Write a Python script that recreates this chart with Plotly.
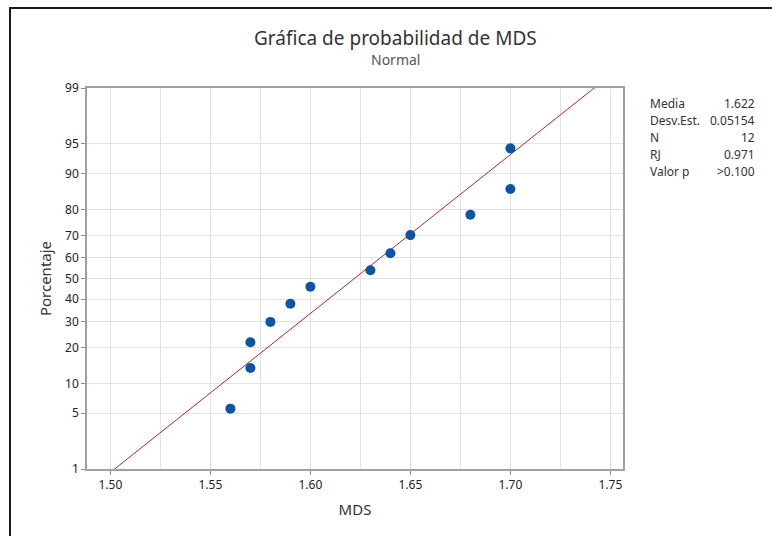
import plotly.graph_objects as go
from statistics import NormalDist

# Data
mds = [1.56, 1.57, 1.57, 1.58, 1.59, 1.60, 1.63, 1.64, 1.65, 1.68, 1.70, 1.70]
percent = [5.6, 13.7, 21.8, 29.8, 37.9, 46.0, 54.0, 62.1, 70.2, 78.2, 86.3, 94.4]
y_ticks = [1, 5, 10, 20, 30, 40, 50, 60, 70, 80, 90, 95, 99]
x_ticks = [1.50, 1.55, 1.60, 1.65, 1.70, 1.75]
stat_labels = ["Media", "Desv.Est.", "N", "RJ", "Valor p"]
stat_values = ["1.622", "0.05154", "12", "0.971", ">0.100"]
media = 1.622
desv = 0.05154

nd = NormalDist()
z = lambda p: nd.inv_cdf(p / 100.0)

y_pts = [z(p) for p in percent]
line_p = [0.5, 99.5]
line_x = [media + desv * z(p) for p in line_p]
line_y = [z(p) for p in line_p]

W, H = 772, 536
L, R, T, B = 87, 149, 88, 67
pw, ph = W - L - R, H - T - B

fig = go.Figure()
fig.add_trace(go.Scatter(x=line_x, y=line_y, mode="lines",
                         line=dict(color="#b3262e", width=1), hoverinfo="skip"))
fig.add_trace(go.Scatter(x=mds, y=y_pts, mode="markers",
                         marker=dict(color="#0b55a6", size=10)))

font = "Noto Sans, Open Sans, sans-serif"
fig.update_layout(
    width=W, height=H, margin=dict(l=L, r=R, t=T, b=B),
    paper_bgcolor="white", plot_bgcolor="white", showlegend=False,
    font=dict(family=font, color="#333333", size=12),
    xaxis=dict(range=[1.4883, 1.7563], tickvals=x_ticks,
               ticktext=[f"{v:.2f}" for v in x_ticks],
               showgrid=True, gridcolor="#e2e2e2", gridwidth=1,
               minor=dict(dtick=0.025, tick0=1.5, showgrid=True, gridcolor="#e2e2e2", ticklen=0),
               ticks="outside", ticklen=4, tickcolor="#8c8c8c",
               showline=True, linecolor="#a0a0a0", linewidth=1.5, mirror=True,
               zeroline=False, tickfont=dict(size=12, color="#222222"),
               title=dict(text="MDS", font=dict(size=15, color="#333333"), standoff=12)),
    yaxis=dict(range=[z(1), z(99)], tickvals=[z(v) for v in y_ticks],
               ticktext=[str(v) for v in y_ticks],
               showgrid=True, gridcolor="#e2e2e2", gridwidth=1,
               ticks="outside", ticklen=4, tickcolor="#8c8c8c",
               showline=True, linecolor="#a0a0a0", linewidth=1.5, mirror=True,
               zeroline=False, tickfont=dict(size=12, color="#222222"),
               title=dict(text="Porcentaje", font=dict(size=15, color="#333333"), standoff=10)),
)

def px_x(px):
    return (px - L) / pw

def px_y(py):
    return (H - B - py) / ph

# Title and subtitle
fig.add_annotation(text="Gráfica de probabilidad de MDS", x=px_x(395), y=px_y(38),
                   xref="paper", yref="paper", showarrow=False,
                   xanchor="center", yanchor="middle",
                   font=dict(size=19, color="#333333", family=font))
fig.add_annotation(text="Normal", x=px_x(395), y=px_y(59),
                   xref="paper", yref="paper", showarrow=False,
                   xanchor="center", yanchor="middle",
                   font=dict(size=14, color="#555555", family=font))

# Stats table
for i, (lab, val) in enumerate(zip(stat_labels, stat_values)):
    yy = px_y(103 + 17 * i)
    fig.add_annotation(text=lab, x=px_x(648), y=yy, xref="paper", yref="paper",
                       xanchor="left", yanchor="middle", showarrow=False,
                       font=dict(size=12, color="#333333", family=font))
    fig.add_annotation(text=val, x=px_x(757), y=yy, xref="paper", yref="paper",
                       xanchor="right", yanchor="middle", showarrow=False,
                       font=dict(size=12, color="#333333", family=font))

# Outer frame
fig.add_shape(type="rect", xref="paper", yref="paper",
              x0=px_x(10), x1=px_x(790), y0=px_y(560), y1=px_y(8),
              line=dict(color="#1a1a1a", width=2), layer="above")

fig.write_html("out.html", config={"displayModeBar": False},
               post_script="document.body.style.margin='0';")
